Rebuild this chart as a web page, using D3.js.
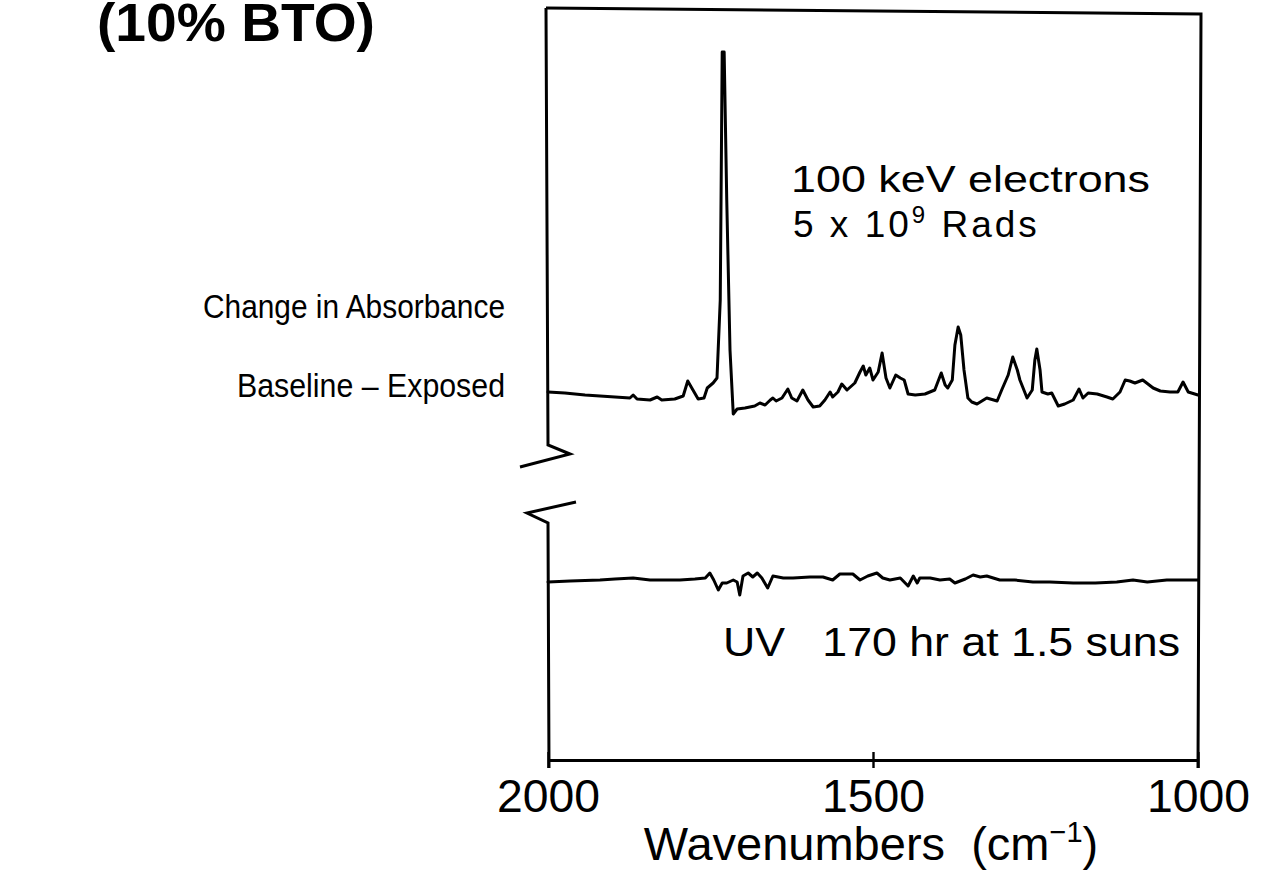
<!DOCTYPE html>
<html>
<head>
<meta charset="utf-8">
<title>10% BTO spectra</title>
<style>
  body { margin: 0; background: #fff; }
  svg text { font-family: "Liberation Sans", Arial, sans-serif; fill: #000; }
  .trace { fill: none; stroke: #000; stroke-width: 3; stroke-linejoin: round; stroke-linecap: round; }
  .frame { fill: none; stroke: #000; stroke-width: 3; }
</style>
</head>
<body>
<svg width="1267" height="879"></svg>
<script src="https://d3js.org/d3.v7.min.js"></script>
<script>
// wavenumbers (cm-1) and change in absorbance (milli-units)
var topWave = [2000,1974,1943,1920,1897,1874,1869,1863,1843,1832,1825,1805,1792,1785,1777,1769,1760,1755,1746,1740,1735,1732,1729,1725,1720,1715,1709,1697,1682,1674,1666,1658,1654,1649,1640,1631,1625,1617,1608,1600,1592,1582,1574,1566,1562,1554,1548,1540,1528,1520,1515,1511,1505,1500,1492,1486,1480,1474,1465,1458,1452,1446,1435,1420,1405,1395,1389,1385,1378,1374,1369,1365,1360,1354,1348,1340,1325,1309,1302,1292,1285,1278,1274,1263,1255,1251,1248,1243,1240,1231,1225,1215,1205,1192,1183,1177,1169,1155,1140,1131,1120,1112,1105,1097,1085,1077,1069,1058,1043,1031,1023,1015,1000];
var topAbs  = [1,0,-2,-3,-4,-5,-2,-6,-7,-4,-7,-6,-3,12,3,-6,-5,5,10,15,93,341,341,193,43,-21,-16,-15,-13,-10,-12,-7,-5,-8,-5,4,-5,-8,3,-7,-14,-13,-7,1,-4,1,9,3,10,21,27,18,25,13,21,40,15,5,18,15,13,-1,-2,-1,3,20,8,5,13,48,66,58,23,-5,-9,-11,-5,-8,3,18,36,23,13,-5,3,33,44,23,1,-1,0,-13,-11,-7,4,-5,0,-1,-4,-6,1,13,12,10,13,9,5,2,1,1,11,1,-2];

var botWave = [2000,1966,1920,1897,1869,1843,1797,1774,1758,1751,1745,1738,1732,1725,1715,1709,1705,1700,1692,1685,1678,1671,1662,1654,1638,1623,1597,1577,1562,1551,1531,1520,1508,1494,1485,1474,1458,1446,1438,1432,1428,1412,1397,1382,1374,1358,1346,1335,1325,1305,1282,1254,1228,1192,1158,1125,1100,1078,1048,1000];
var botAbs  = [-2,-1,0,1,2,0,0,1,2,7,0,-10,-3,-3,0,-2,-15,4,7,3,7,2,-8,4,2,2,3,3,0,6,6,0,4,7,2,0,2,-6,4,-3,2,2,0,1,-3,1,5,3,4,0,0,-2,-2,-3,-3,-2,0,-2,0,0];

var topOffset = 0, botOffset = -187;
var xTicks = [2000, 1500, 1000];

var svg = d3.select("svg");

var x = d3.scaleLinear().domain([2000, 1000]).range([548, 1198]);
var y = d3.scaleLinear().domain([-367, 383]).range([760, 10]);

var line = d3.line()
    .x(function(d) { return x(d[0]); })
    .y(function(d) { return y(d[1]); });

var topData = topWave.map(function(w, i) { return [w, topAbs[i] + topOffset]; });
var botData = botWave.map(function(w, i) { return [w, botAbs[i] + botOffset]; });

svg.append("path").attr("class", "trace").attr("d", line(topData));
svg.append("path").attr("class", "trace").attr("d", line(botData));

// frame (slightly skewed like the scan)
var x0 = x(2000), x1 = x(1000), yb = y(-367);
svg.append("path").attr("class", "frame")
    .attr("d", "M" + (x0 - 2) + "," + 8 + "L" + (x1 + 3) + "," + 14 + "L" + x1 + "," + (yb + 8));
// left axis with break
svg.append("path").attr("class", "frame")
    .attr("d", "M" + (x0 - 2) + ",8L" + x0 + ",445L" + (x0 + 22) + ",454L" + (x0 - 28) + ",467");
svg.append("path").attr("class", "frame")
    .attr("d", "M" + (x0 + 28) + ",502L" + (x0 - 21) + ",513L" + x0 + ",523L" + (x0 + 1) + "," + (yb + 8));

// bottom axis
var axis = svg.append("g")
    .attr("transform", "translate(0," + yb + ")")
    .call(d3.axisBottom(x).tickValues(xTicks).tickFormat(d3.format("d"))
        .tickSize(8).tickSizeOuter(0).tickPadding(11));
axis.select(".domain").attr("stroke-width", 3);
axis.selectAll(".tick line").attr("y1", -8).attr("stroke-width", 2.4);
axis.selectAll(".tick text")
    .style("font-size", "46px")
    .attr("textLength", 103).attr("lengthAdjust", "spacingAndGlyphs");

// x axis title
svg.append("text").attr("x", 871).attr("y", 860).attr("text-anchor", "middle")
    .style("font-size", "47px")
    .html('Wavenumbers&#160;&#160;(cm<tspan dy="-18" font-size="29">\u22121</tspan><tspan dy="18">)</tspan>');

// title and y label
svg.append("text").attr("x", 97).attr("y", 41)
    .style("font-size", "54px").style("font-weight", "bold")
    .attr("textLength", 278).attr("lengthAdjust", "spacingAndGlyphs")
    .text("(10% BTO)");

svg.append("text").attr("x", 505).attr("y", 318).attr("text-anchor", "end")
    .style("font-size", "34px")
    .attr("textLength", 302).attr("lengthAdjust", "spacingAndGlyphs")
    .text("Change in Absorbance");
svg.append("text").attr("x", 505).attr("y", 397).attr("text-anchor", "end")
    .style("font-size", "34px")
    .attr("textLength", 268).attr("lengthAdjust", "spacingAndGlyphs")
    .text("Baseline \u2013 Exposed");

// annotations
svg.append("text").attr("x", 791).attr("y", 192)
    .style("font-size", "36px")
    .attr("textLength", 359).attr("lengthAdjust", "spacingAndGlyphs")
    .text("100 keV electrons");
svg.append("text").attr("x", 793).attr("y", 237)
    .style("font-size", "37px").style("letter-spacing", "3px")
    .html('5 x 10<tspan dy="-14" font-size="24">9</tspan><tspan dy="14"> Rads</tspan>');
svg.append("text").attr("x", 723).attr("y", 656)
    .style("font-size", "40px")
    .attr("textLength", 457).attr("lengthAdjust", "spacingAndGlyphs")
    .html("UV&#160;&#160;&#160;170 hr at 1.5 suns");
</script>
</body>
</html>
